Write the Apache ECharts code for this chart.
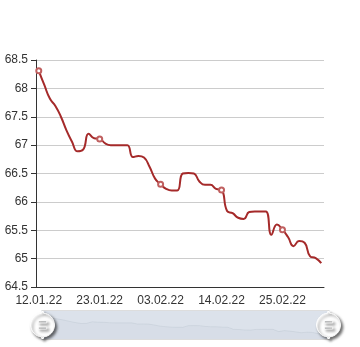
<!DOCTYPE html>
<html>
<head>
<meta charset="utf-8">
<script src="https://cdn.jsdelivr.net/npm/echarts@6/dist/echarts.min.js"></script>
<style>html,body{margin:0;padding:0;background:#fff}#c{width:360px;height:347px}</style>
</head>
<body>
<div id="c"></div>
<script>
const dates = [
  '12.01.22','13.01.22','14.01.22','15.01.22','16.01.22','17.01.22','18.01.22','19.01.22','20.01.22','21.01.22',
  '22.01.22','23.01.22','24.01.22','25.01.22','26.01.22','27.01.22','28.01.22','29.01.22','30.01.22','31.01.22',
  '01.02.22','02.02.22','03.02.22','04.02.22','05.02.22','06.02.22','07.02.22','08.02.22','09.02.22','10.02.22',
  '11.02.22','12.02.22','13.02.22','14.02.22','15.02.22','16.02.22','17.02.22','18.02.22','19.02.22','20.02.22',
  '21.02.22','22.02.22','23.02.22','24.02.22','25.02.22','26.02.22','27.02.22','28.02.22','01.03.22','02.03.22',
  '03.03.22','04.03.22'
];
const values = [
  68.31, 68.06, 67.82, 67.69, 67.50, 67.26, 67.06, 66.89, 66.92, 67.20,
  67.12, 67.11, 67.03, 67.00, 67.00, 67.00, 67.00, 66.79, 66.81, 66.78,
  66.62, 66.41, 66.31, 66.23, 66.20, 66.20, 66.50, 66.51, 66.50, 66.36,
  66.30, 66.30, 66.23, 66.21, 65.84, 65.80, 65.72, 65.70, 65.82, 65.83,
  65.83, 65.83, 65.42, 65.60, 65.51, 65.38, 65.22, 65.31, 65.28, 65.04,
  65.01, 64.92
];
const yMin = 64.5, yMax = 68.5, yStep = 0.5;

const chart = echarts.init(document.getElementById('c'), null, {renderer: 'canvas'});
const font = 'Liberation Sans, Arial, sans-serif';
chart.setOption({
  animation: false,
  textStyle: {fontFamily: font},
  grid: {left: 36, right: 36, top: 60, bottom: 60},
  xAxis: {
    type: 'category',
    data: dates,
    axisLine: {lineStyle: {color: '#333'}},
    axisTick: {interval: 10, lineStyle: {color: '#333'}},
    axisLabel: {interval: 10, color: '#333', fontSize: 12, fontFamily: font}
  },
  yAxis: {
    type: 'value',
    min: yMin, max: yMax, interval: yStep,
    axisLine: {show: true, lineStyle: {color: '#333'}},
    axisTick: {show: true, lineStyle: {color: '#333'}},
    axisLabel: {color: '#333', fontSize: 12, fontFamily: font},
    splitLine: {lineStyle: {color: '#ccc'}}
  },
  dataZoom: [
    {type: 'inside', start: 0, end: 100},
    {
      type: 'slider', start: 0, end: 100,
      left: 39, right: 33,
      height: 30, bottom: 7,
      handleIcon: 'path://M10.7,11.9v-1.3H9.3v1.3c-4.9,0.3-8.8,4.4-8.8,9.4c0,5,3.9,9.1,8.8,9.4v1.3h1.3v-1.3c4.9-0.3,8.8-4.4,8.8-9.4C19.5,16.3,15.6,12.2,10.7,11.9z M13.3,24.4H6.7V23h6.6V24.4z M13.3,19.6H6.7v-1.4h6.6V19.6z',
      handleSize: '90%',
      handleStyle: {color: '#fff', borderColor: '#fff', shadowBlur: 3, shadowColor: 'rgba(0,0,0,0.6)', shadowOffsetX: 2, shadowOffsetY: 2},
      fillerColor: 'rgba(167,183,204,0.4)',
      borderColor: '#ddd',
      backgroundColor: 'rgba(47,69,84,0)',
      moveHandleSize: 0,
      brushSelect: false,
      showDetail: false,
      dataBackground: {lineStyle: {color: '#2f4554', width: 0.5, opacity: 0.2}, areaStyle: {color: 'rgba(47,69,84,0.15)'}},
      selectedDataBackground: {lineStyle: {color: '#2f4554', width: 0.5, opacity: 0.2}, areaStyle: {color: 'rgba(47,69,84,0.15)'}}
    }
  ],
  series: [{
    type: 'line',
    data: values,
    smooth: true,
    symbol: 'emptyCircle',
    symbolSize: 5,
    lineStyle: {color: '#a52a2a', width: 2},
    itemStyle: {color: '#c06060', borderWidth: 1}
  }]
});
</script>
</body>
</html>
